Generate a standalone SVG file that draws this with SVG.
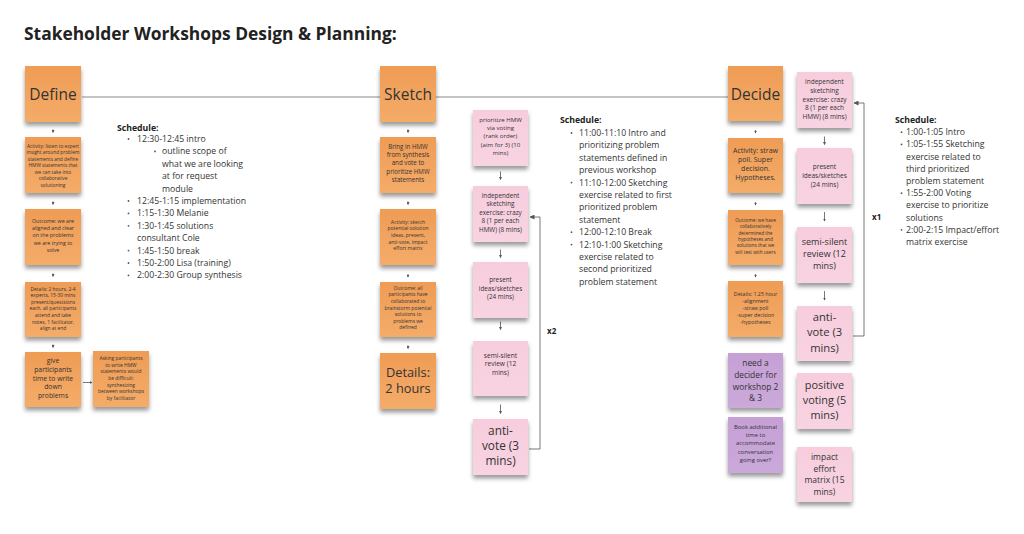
<svg xmlns="http://www.w3.org/2000/svg" width="1024" height="534" viewBox="0 0 1024 534">
<style>
text{font-family:"Open Sans","Liberation Sans",sans-serif;fill:#333}
.c{text-anchor:middle}
.t{font-size:17.4px;font-weight:bold;fill:#222}
.h{font-size:8.7px;font-weight:bold;fill:#222}
.s{font-size:8.7px}
.x{font-size:8px;font-weight:bold;fill:#222}
.o{fill:url(#og)}
.p{fill:url(#pg)}
.v{fill:url(#vg)}
.st{filter:url(#sh)}
.ln{stroke:#8a8a8a;stroke-width:1;fill:none}
.ar{stroke:#555;stroke-width:0.8;fill:none}
.bl{fill:#555}
</style>
<defs>
<linearGradient id="og" x1="0" y1="0" x2="0" y2="1"><stop offset="0" stop-color="#EF9C55"/><stop offset="1" stop-color="#F4AC69"/></linearGradient>
<linearGradient id="pg" x1="0" y1="0" x2="0" y2="1"><stop offset="0" stop-color="#F7CDDD"/><stop offset="1" stop-color="#F8D3E2"/></linearGradient>
<linearGradient id="vg" x1="0" y1="0" x2="0" y2="1"><stop offset="0" stop-color="#C5A0D5"/><stop offset="1" stop-color="#CBA9DA"/></linearGradient>
<filter id="sh" x="-20%" y="-20%" width="140%" height="150%"><feDropShadow dx="0" dy="3.5" stdDeviation="2" flood-color="#000" flood-opacity="0.4"/></filter>
<marker id="ah" markerWidth="5" markerHeight="5" refX="4.5" refY="2.5" orient="auto" markerUnits="userSpaceOnUse"><path d="M0,0 L5,2.5 L0,5 z" fill="#555"/></marker>
<marker id="sm" markerWidth="3" markerHeight="3" refX="2.5" refY="1.5" orient="auto" markerUnits="userSpaceOnUse"><path d="M0,0 L3,1.5 L0,3 z" fill="#555"/></marker>
</defs>
<rect width="1024" height="534" fill="#fff"/>
<text class="t" x="24" y="39.5">Stakeholder Workshops Design &amp; Planning:</text>

<g id="connectors">
<line class="ln" x1="82" y1="97" x2="380" y2="97"/>
<line class="ln" x1="436" y1="97" x2="728" y2="97"/>
<path class="ar" d="M53,129.5 v3" marker-end="url(#sm)"/>
<path class="ar" d="M53,201.5 v3" marker-end="url(#sm)"/>
<path class="ar" d="M53,273.5 v3" marker-end="url(#sm)"/>
<path class="ar" d="M53,344.5 v3" marker-end="url(#sm)"/>
<path class="ar" d="M83,382.5 h9" marker-end="url(#sm)"/>
<path class="ar" d="M408,129.5 v3" marker-end="url(#sm)"/>
<path class="ar" d="M408,201.5 v3" marker-end="url(#sm)"/>
<path class="ar" d="M408,274 v3" marker-end="url(#sm)"/>
<path class="ar" d="M408,345.5 v3" marker-end="url(#sm)"/>
<path class="ar" d="M755.5,130 v3" marker-end="url(#sm)"/>
<path class="ar" d="M755.5,202 v3" marker-end="url(#sm)"/>
<path class="ar" d="M755.5,274 v3" marker-end="url(#sm)"/>
<path class="ar" d="M500.5,171.5 v8" marker-end="url(#sm)"/>
<path class="ar" d="M500.5,249.5 v8" marker-end="url(#sm)"/>
<path class="ar" d="M500.5,321.5 v8" marker-end="url(#sm)"/>
<path class="ar" d="M500.5,404.5 v9" marker-end="url(#sm)"/>
<path class="ar" d="M824.5,136.5 v8" marker-end="url(#sm)"/>
<path class="ar" d="M824.5,212 v9" marker-end="url(#sm)"/>
<path class="ar" d="M824.5,291 v9" marker-end="url(#sm)"/>
<path class="ar" d="M529,449 H540 V217 H530" marker-end="url(#ah)"/>
<path class="ar" d="M853,336 H864 V103 H854" marker-end="url(#ah)"/>
<text class="x" x="547" y="334">x2</text>
<text class="x" x="872" y="220">x1</text>
</g>

<g id="define"><rect class="o st" x="25" y="66" width="56" height="56"/><text class="c" x="53" y="100" font-size="15.5">Define</text></g>
<g id="define-activity"><rect class="o st" x="25" y="137" width="56" height="56"/><text class="c" font-size="4.8"><tspan x="53" y="147.5">Activity: listen to expert</tspan><tspan x="53" y="154">insight around problem</tspan><tspan x="53" y="160.5">statements and define</tspan><tspan x="53" y="167">HMW statements that</tspan><tspan x="53" y="173.5">we can take into</tspan><tspan x="53" y="180">collaborative</tspan><tspan x="53" y="186.5">solutioning</tspan></text></g>
<g id="define-outcome"><rect class="o st" x="25" y="209" width="56" height="56"/><text class="c" font-size="5.3"><tspan x="53" y="222.7">Outcome: we are</tspan><tspan x="53" y="230">aligned and clear</tspan><tspan x="53" y="237.3">on the problems</tspan><tspan x="53" y="244.6">we are trying to</tspan><tspan x="53" y="251.9">solve</tspan></text></g>
<g id="define-details"><rect class="o st" x="25" y="282" width="56" height="55"/><text class="c" font-size="4.9"><tspan x="53" y="290.5">Details: 2 hours, 2-4</tspan><tspan x="53" y="297.1">experts, 15-30 mins</tspan><tspan x="53" y="303.7">present/questsions</tspan><tspan x="53" y="310.3">each, all participants</tspan><tspan x="53" y="316.9">attend and take</tspan><tspan x="53" y="323.5">notes, 1 facilitator,</tspan><tspan x="53" y="330.1">align at end</tspan></text></g>
<g id="define-give"><rect class="o st" x="25" y="352" width="56" height="55"/><text class="c" font-size="6.8"><tspan x="53" y="363">give</tspan><tspan x="53" y="371.8">participants</tspan><tspan x="53" y="380.6">time to write</tspan><tspan x="53" y="389.4">down</tspan><tspan x="53" y="398.2">problems</tspan></text></g>
<g id="define-asking"><rect class="o st" x="93" y="351" width="56" height="56"/><text class="c" font-size="4.9"><tspan x="121" y="360.2">Asking participants</tspan><tspan x="121" y="366.8">to write HMW</tspan><tspan x="121" y="373.4">statements would</tspan><tspan x="121" y="380">be difficult:</tspan><tspan x="121" y="386.6">synthesizing</tspan><tspan x="121" y="393.2">between workshops</tspan><tspan x="121" y="399.8">by facilitator</tspan></text></g>

<g id="schedule-define">
<text class="h" x="117" y="131">Schedule:</text>
<circle class="bl" cx="128.5" cy="139" r="0.9"/><circle class="bl" cx="155" cy="151.4" r="0.9"/><circle class="bl" cx="128.5" cy="201" r="0.9"/><circle class="bl" cx="128.5" cy="213.4" r="0.9"/><circle class="bl" cx="128.5" cy="225.8" r="0.9"/><circle class="bl" cx="128.5" cy="250.6" r="0.9"/><circle class="bl" cx="128.5" cy="263" r="0.9"/><circle class="bl" cx="128.5" cy="275.4" r="0.9"/>
<text class="s"><tspan x="137" y="142">12:30-12:45 intro</tspan><tspan x="162" y="154.4">outline scope of</tspan><tspan x="162" y="166.8">what we are looking</tspan><tspan x="162" y="179.2">at for request</tspan><tspan x="162" y="191.6">module</tspan><tspan x="137" y="204">12:45-1:15 implementation</tspan><tspan x="137" y="216.4">1:15-1:30 Melanie</tspan><tspan x="137" y="228.8">1:30-1:45 solutions</tspan><tspan x="137" y="241.2">consultant Cole</tspan><tspan x="137" y="253.6">1:45-1:50 break</tspan><tspan x="137" y="266">1:50-2:00 Lisa (training)</tspan><tspan x="137" y="278.4">2:00-2:30 Group synthesis</tspan></text>
</g>

<g id="sketch"><rect class="o st" x="380" y="66" width="56" height="56"/><text class="c" x="408" y="100" font-size="15.5">Sketch</text></g>
<g id="sketch-bring"><rect class="o st" x="380" y="137" width="56" height="56"/><text class="c" font-size="6.2"><tspan x="408" y="149">Bring in HMW</tspan><tspan x="408" y="157.2">from synthesis</tspan><tspan x="408" y="165.4">and vote to</tspan><tspan x="408" y="173.6">prioritize HMW</tspan><tspan x="408" y="181.8">statements</tspan></text></g>
<g id="sketch-activity"><rect class="o st" x="380" y="209" width="56" height="56"/><text class="c" font-size="5"><tspan x="408" y="223.5">Activity: sketch</tspan><tspan x="408" y="230.2">potential solution</tspan><tspan x="408" y="236.9">ideas, present,</tspan><tspan x="408" y="243.6">anti-vote, impact</tspan><tspan x="408" y="250.3">effort matrix</tspan></text></g>
<g id="sketch-outcome"><rect class="o st" x="380" y="282" width="56" height="55"/><text class="c" font-size="4.9"><tspan x="408" y="289.8">Outcome: all</tspan><tspan x="408" y="296.4">participants have</tspan><tspan x="408" y="303">collaborated to</tspan><tspan x="408" y="309.6">brainstorm potential</tspan><tspan x="408" y="316.2">solutions to</tspan><tspan x="408" y="322.8">problems we</tspan><tspan x="408" y="329.4">defined</tspan></text></g>
<g id="sketch-details"><rect class="o st" x="380" y="353" width="56" height="56"/><text class="c" font-size="12.8"><tspan x="408" y="376.5">Details:</tspan><tspan x="408" y="392.5">2 hours</tspan></text></g>

<g id="sk-prioritize"><rect class="p st" x="473" y="110" width="55" height="56"/><text class="c" font-size="6.1"><tspan x="500.5" y="122">prioritize HMW</tspan><tspan x="500.5" y="130.2">via voting</tspan><tspan x="500.5" y="138.4">(rank order)</tspan><tspan x="500.5" y="146.6">(aim for 3) (10</tspan><tspan x="500.5" y="154.8">mins)</tspan></text></g>
<g id="sk-independent"><rect class="p st" x="473" y="186" width="55" height="56"/><text class="c" font-size="6.3"><tspan x="500.5" y="197.6">independent</tspan><tspan x="500.5" y="206.1">sketching</tspan><tspan x="500.5" y="214.6">exercise: crazy</tspan><tspan x="500.5" y="223.1">8 (1 per each</tspan><tspan x="500.5" y="231.6">HMW) (8 mins)</tspan></text></g>
<g id="sk-present"><rect class="p st" x="473" y="262" width="55" height="56"/><text class="c" font-size="6.3"><tspan x="500.5" y="282">present</tspan><tspan x="500.5" y="290.5">ideas/sketches</tspan><tspan x="500.5" y="299">(24 mins)</tspan></text></g>
<g id="sk-semi"><rect class="p st" x="473" y="341" width="55" height="55"/><text class="c" font-size="6.6"><tspan x="500.5" y="357.6">semi-silent</tspan><tspan x="500.5" y="366.2">review (12</tspan><tspan x="500.5" y="374.8">mins)</tspan></text></g>
<g id="sk-anti"><rect class="p st" x="473" y="419" width="55" height="56"/><text class="c" font-size="11.8"><tspan x="500.5" y="435.2">anti-</tspan><tspan x="500.5" y="449.9">vote (3</tspan><tspan x="500.5" y="464.6">mins)</tspan></text></g>

<g id="schedule-sketch">
<text class="h" x="560" y="123">Schedule:</text>
<circle class="bl" cx="571.5" cy="133" r="0.9"/><circle class="bl" cx="571.5" cy="182.6" r="0.9"/><circle class="bl" cx="571.5" cy="232.2" r="0.9"/><circle class="bl" cx="571.5" cy="244.6" r="0.9"/>
<text class="s"><tspan x="579" y="136">11:00-11:10 Intro and</tspan><tspan x="579" y="148.4">prioritizing problem</tspan><tspan x="579" y="160.8">statements defined in</tspan><tspan x="579" y="173.2">previous workshop</tspan><tspan x="579" y="185.6">11:10-12:00 Sketching</tspan><tspan x="579" y="198">exercise related to first</tspan><tspan x="579" y="210.4">prioritized problem</tspan><tspan x="579" y="222.8">statement</tspan><tspan x="579" y="235.2">12:00-12:10 Break</tspan><tspan x="579" y="247.6">12:10-1:00 Sketching</tspan><tspan x="579" y="260">exercise related to</tspan><tspan x="579" y="272.4">second prioritized</tspan><tspan x="579" y="284.8">problem statement</tspan></text>
</g>

<g id="decide"><rect class="o st" x="728" y="66" width="55" height="55"/><text class="c" x="755.5" y="99.5" font-size="15.5">Decide</text></g>
<g id="decide-activity"><rect class="o st" x="728" y="138" width="55" height="55"/><text class="c" font-size="7"><tspan x="755.5" y="152.8">Activity: straw</tspan><tspan x="755.5" y="161.8">poll. Super</tspan><tspan x="755.5" y="170.8">decision.</tspan><tspan x="755.5" y="179.8">Hypotheses.</tspan></text></g>
<g id="decide-outcome"><rect class="o st" x="728" y="210" width="55" height="55"/><text class="c" font-size="4.7"><tspan x="755.5" y="222.1">Outcome: we have</tspan><tspan x="755.5" y="228.4">collaboratively</tspan><tspan x="755.5" y="234.7">determined  the</tspan><tspan x="755.5" y="241">hypotheses and</tspan><tspan x="755.5" y="247.3">solutions that we</tspan><tspan x="755.5" y="253.6">will test with users</tspan></text></g>
<g id="decide-details"><rect class="o st" x="728" y="281" width="55" height="56"/><text class="c" font-size="5.3"><tspan x="755.5" y="295.6">Details: 1.25 hour</tspan><tspan x="755.5" y="302.8">-alignment</tspan><tspan x="755.5" y="310">-straw poll</tspan><tspan x="755.5" y="317.2">-super decision</tspan><tspan x="755.5" y="324.4">-hypotheses</tspan></text></g>
<g id="decide-decider"><rect class="v st" x="728" y="353" width="55" height="55"/><text class="c" font-size="8.4"><tspan x="755.5" y="366">need a</tspan><tspan x="755.5" y="377.8">decider for</tspan><tspan x="755.5" y="389.6">workshop 2</tspan><tspan x="755.5" y="401.4">&amp; 3</tspan></text></g>
<g id="decide-book"><rect class="v st" x="728" y="417" width="55" height="56"/><text class="c" font-size="5.9"><tspan x="755.5" y="428.8">Book additional</tspan><tspan x="755.5" y="437.1">time to</tspan><tspan x="755.5" y="445.4">accommodate</tspan><tspan x="755.5" y="453.7">conversation</tspan><tspan x="755.5" y="462">going over?</tspan></text></g>

<g id="de-independent"><rect class="p st" x="797" y="72" width="55" height="56"/><text class="c" font-size="6.5"><tspan x="824.5" y="84">independent</tspan><tspan x="824.5" y="92.8">sketching</tspan><tspan x="824.5" y="101.5">exercise: crazy</tspan><tspan x="824.5" y="110.3">8 (1 per each</tspan><tspan x="824.5" y="119">HMW) (8 mins)</tspan></text></g>
<g id="de-present"><rect class="p st" x="797" y="148" width="55" height="56"/><text class="c" font-size="6.5"><tspan x="824.5" y="169.3">present</tspan><tspan x="824.5" y="178">ideas/sketches</tspan><tspan x="824.5" y="186.8">(24 mins)</tspan></text></g>
<g id="de-semi"><rect class="p st" x="797" y="227" width="55" height="56"/><text class="c" font-size="9"><tspan x="824.5" y="245.4">semi-silent</tspan><tspan x="824.5" y="257.4">review (12</tspan><tspan x="824.5" y="269.4">mins)</tspan></text></g>
<g id="de-anti"><rect class="p st" x="797" y="306" width="55" height="55"/><text class="c" font-size="11.2"><tspan x="824.5" y="321">anti-</tspan><tspan x="824.5" y="336.3">vote (3</tspan><tspan x="824.5" y="351.6">mins)</tspan></text></g>
<g id="de-positive"><rect class="p st" x="797" y="373" width="55" height="56"/><text class="c" font-size="10.9"><tspan x="824.5" y="389">positive</tspan><tspan x="824.5" y="404.2">voting (5</tspan><tspan x="824.5" y="419.4">mins)</tspan></text></g>
<g id="de-impact"><rect class="p st" x="797" y="447" width="55" height="55"/><text class="c" font-size="8.5"><tspan x="824.5" y="459.9">impact</tspan><tspan x="824.5" y="471.6">effort</tspan><tspan x="824.5" y="483.3">matrix (15</tspan><tspan x="824.5" y="495">mins)</tspan></text></g>

<g id="schedule-decide">
<text class="h" x="895" y="122.5">Schedule:</text>
<circle class="bl" cx="901.5" cy="132.2" r="0.9"/><circle class="bl" cx="901.5" cy="144.4" r="0.9"/><circle class="bl" cx="901.5" cy="193.2" r="0.9"/><circle class="bl" cx="901.5" cy="229.8" r="0.9"/>
<text class="s"><tspan x="906" y="135.2">1:00-1:05 Intro</tspan><tspan x="906" y="147.4">1:05-1:55 Sketching</tspan><tspan x="906" y="159.6">exercise related to</tspan><tspan x="906" y="171.8">third prioritized</tspan><tspan x="906" y="184">problem statement</tspan><tspan x="906" y="196.2">1:55-2:00 Voting</tspan><tspan x="906" y="208.4">exercise to prioritize</tspan><tspan x="906" y="220.6">solutions</tspan><tspan x="906" y="232.8">2:00-2:15 Impact/effort</tspan><tspan x="906" y="245">matrix exercise</tspan></text>
</g>
</svg>
